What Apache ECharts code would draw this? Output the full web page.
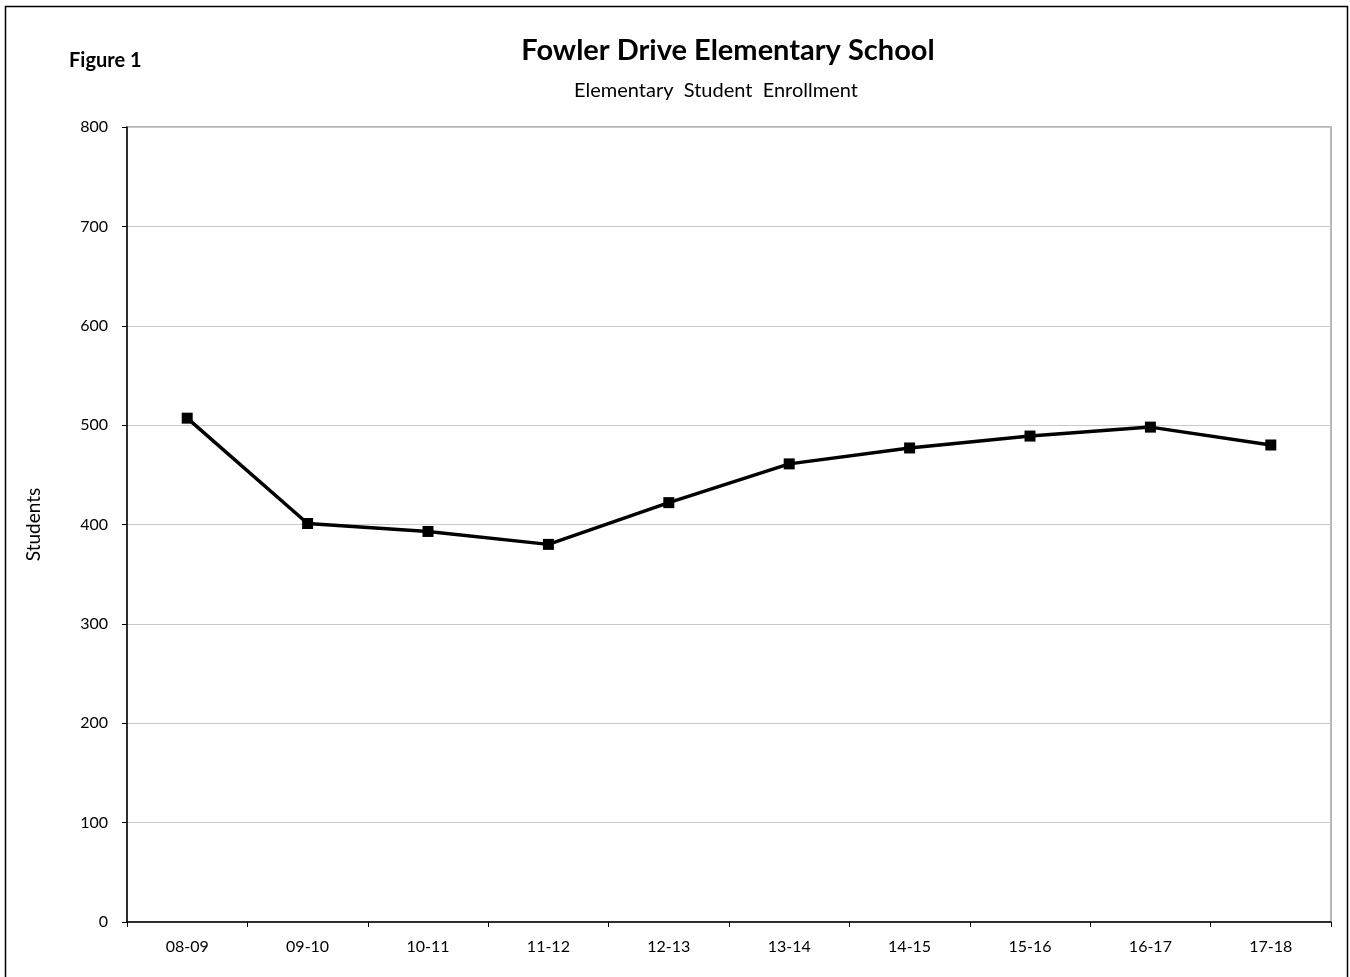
<!DOCTYPE html>
<html>
<head>
<meta charset="utf-8">
<script src="https://cdn.jsdelivr.net/npm/echarts@6/dist/echarts.min.js"></script>
<style>
  html, body { margin: 0; padding: 0; background: #fff; }
  #chart { width: 1350px; height: 977px; }
</style>
</head>
<body>
<div id="chart"></div>
<script>
  // school years and enrollment counts
  var years = ['08-09', '09-10', '10-11', '11-12', '12-13', '13-14', '14-15', '15-16', '16-17', '17-18'];
  var students = [507, 401, 393, 380, 422, 461, 477, 489, 498, 480];
  var yTicks = { min: 0, max: 800, interval: 100 };

  var font = 'Lato, "Open Sans", sans-serif';
  var chart = echarts.init(document.getElementById('chart'));
  chart.setOption({
    animation: false,
    textStyle: { fontFamily: font },
    title: [{
      text: 'Fowler Drive Elementary School',
      left: 723, top: 31, textAlign: 'center',
      textStyle: { fontSize: 29, fontWeight: 'bold', color: '#000', fontFamily: font }
    }, {
      text: 'Elementary  Student  Enrollment',
      left: 711, top: 76, textAlign: 'center',
      textStyle: { fontSize: 20, fontWeight: 'normal', color: '#000', fontFamily: font }
    }, {
      text: 'Figure 1',
      left: 64, top: 46,
      textStyle: { fontSize: 20, fontWeight: 'bold', color: '#000', fontFamily: font }
    }],
    graphic: [{
      type: 'rect',
      shape: { x: 5.5, y: 6.5, width: 1342, height: 980 },
      style: { fill: 'none', stroke: '#000', lineWidth: 1.5 },
      silent: true
    }],
    grid: {
      left: 127, right: 19, top: 127, bottom: 55,
      show: true, borderColor: '#a0a0a0', borderWidth: 1.5
    },
    xAxis: {
      type: 'category',
      data: years,
      boundaryGap: true,
      axisLine: { lineStyle: { color: '#000', width: 1.5 } },
      axisTick: { show: true, inside: false, length: 5, alignWithLabel: false, lineStyle: { color: '#000' } },
      axisLabel: { color: '#000', fontSize: 16, margin: 17, fontFamily: font }
    },
    yAxis: {
      type: 'value',
      min: yTicks.min, max: yTicks.max, interval: yTicks.interval,
      name: 'Students',
      nameLocation: 'middle',
      nameGap: 84,
      nameRotate: 90,
      nameTextStyle: { color: '#000', fontSize: 19, fontFamily: font },
      axisLine: { show: true, lineStyle: { color: '#000', width: 1.5 } },
      axisTick: { show: true, length: 5, lineStyle: { color: '#000' } },
      axisLabel: { color: '#000', fontSize: 16, margin: 19, fontFamily: font },
      splitLine: { show: true, lineStyle: { color: '#c8c8c8', width: 1 } }
    },
    series: [{
      type: 'line',
      data: students,
      symbol: 'rect',
      symbolSize: 11,
      lineStyle: { color: '#000', width: 3.5 },
      itemStyle: { color: '#000' }
    }]
  });
</script>
</body>
</html>
